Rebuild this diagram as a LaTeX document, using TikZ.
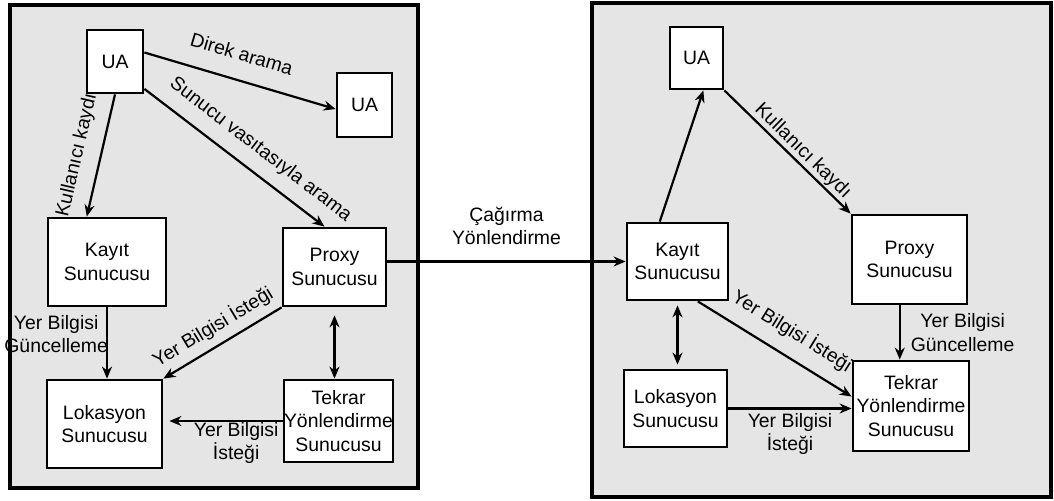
\documentclass[tikz,border=0pt]{standalone}
\usepackage{fontspec}
\setmainfont{Liberation Sans}
\usetikzlibrary{arrows.meta}

\begin{document}
\begin{tikzpicture}[x=0.5pt, y=-0.5pt, every node/.style={align=center, inner sep=0pt, font=\fontsize{9.7}{11.6}\selectfont},
  box/.style={draw, fill=white, line width=1.4pt},
  panel/.style={draw, fill=black!10, line width=2pt},
  arr/.style={-{Stealth[length=6pt,width=5pt]}, line width=1.1pt},
  darr/.style={{Stealth[length=6pt,width=5pt]}-{Stealth[length=6pt,width=5pt]}, line width=1.1pt}]
\useasboundingbox (0,0) rectangle (1054,501);
\draw[panel] (10,5) rectangle (418,488);
\draw[panel] (592,3) rectangle (1051,497);
\node[box, minimum width=28pt, minimum height=31.5pt] (ua1) at (115,61.5) {UA};
\node[box, minimum width=27.5pt, minimum height=32pt] (ua2) at (364.5,105) {UA};
\node[box, minimum width=59pt, minimum height=44pt] (kayit1) at (107,262) {Kayıt\\Sunucusu};
\node[box, minimum width=51.5pt, minimum height=39pt] (proxy1) at (334.5,267) {Proxy\\Sunucusu};
\node[box, minimum width=57.5pt, minimum height=44pt] (loka1) at (104.5,424) {Lokasyon\\Sunucusu};
\node[box, minimum width=53.5pt, minimum height=41pt] (tekrar1) at (338.5,421) {Tekrar\\Yönlendirme\\Sunucusu};
\node[box, minimum width=26.5pt, minimum height=31pt] (ua3) at (696.5,58) {UA};
\node[box, minimum width=50.5pt, minimum height=38.5pt] (kayit2) at (677.5,261.5) {Kayıt\\Sunucusu};
\node[box, minimum width=57.5pt, minimum height=44.5pt] (proxy2) at (909.5,259.5) {Proxy\\Sunucusu};
\node[box, minimum width=51.5pt, minimum height=38.5pt] (loka2) at (675.5,408.5) {Lokasyon\\Sunucusu};
\node[box, minimum width=58pt, minimum height=45pt] (tekrar2) at (911,406) {Tekrar\\Yönlendirme\\Sunucusu};
\draw[arr] (ua1.17) -- node[sloped, above=9pt, pos=0.47] {Direk arama} (ua2.188);
\draw[arr] (ua1.south) -- node[sloped, above=6.5pt, pos=0.54] {Kullanıcı kaydı} (kayit1.114);
\draw[arr] (ua1.-43) -- node[sloped, above=6pt, pos=0.57] {Sunucu vasıtasıyla arama} (proxy1.104);
\draw[arr] (kayit1.south) -- node[left=-1pt, pos=0.38] {Yer Bilgisi\\Güncelleme} (kayit1.south |- loka1.north);
\draw[arr] (proxy1.south west) -- node[sloped, above=3.7pt] {Yer Bilgisi İsteği} (loka1.north east);
\draw[darr, shorten <=4pt] (proxy1.south) -- (proxy1.south |- tekrar1.north);
\draw[arr, shorten >=3pt] (tekrar1.west) -- node[below=0pt, pos=0.39] {Yer Bilgisi\\İsteği} (tekrar1.west -| loka1.east);
\draw[arr] (proxy1.east |- kayit2.west) -- node[above=8pt] {Çağırma\\Yönlendirme} (kayit2.west);
\draw[arr] (kayit2.114) -- (ua3.-78);
\draw[arr] (ua3.south east) -- node[sloped, above=0.5pt, pos=0.56] {Kullanıcı kaydı} (proxy2.north west);
\draw[arr] (kayit2.-63) -- node[sloped, above=6.5pt, pos=0.53] {Yer Bilgisi İsteği} (tekrar2.171);
\draw[darr, shorten <=2pt, shorten >=2pt] (kayit2.south) -- (kayit2.south |- loka2.north);
\draw[arr] (loka2.east) -- node[below=2pt] {Yer Bilgisi\\İsteği} (loka2.east -| tekrar2.west);
\draw[arr] (proxy2.-102) -- node[right=5pt] {Yer Bilgisi\\Güncelleme} (proxy2.-102 |- tekrar2.north);
\end{tikzpicture}
\end{document}
